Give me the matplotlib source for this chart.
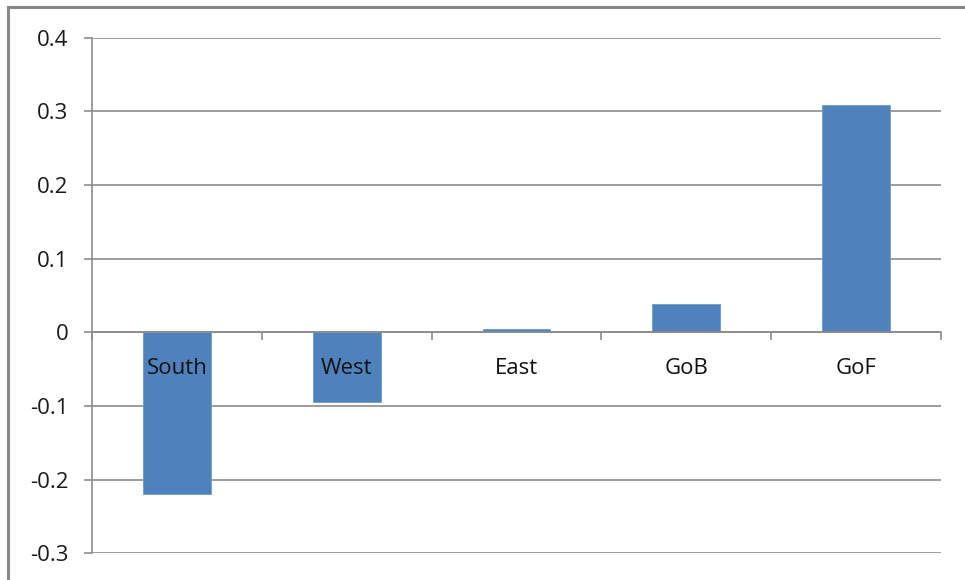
import matplotlib.pyplot as plt
from matplotlib.patches import Rectangle
import numpy as np

regions = ['South', 'West', 'East', 'GoB', 'GoF']
values = [-0.219, -0.094, 0.004, 0.038, 0.308]
yticks = [-0.3, -0.2, -0.1, 0, 0.1, 0.2, 0.3, 0.4]
ytick_labels = ['-0.3', '-0.2', '-0.1', '0', '0.1', '0.2', '0.3', '0.4']

plt.rcParams['font.family'] = ['Open Sans', 'DejaVu Sans']
grey = '#8c8c8c'

fig = plt.figure(figsize=(9.65, 5.8), dpi=100)
ax = fig.add_axes([92 / 965, 1 - 553.3 / 580, (941 - 92) / 965, (553.3 - 37.7) / 580])

x = np.arange(len(regions))
ax.bar(x, values, width=0.4, color='#4f81bd', edgecolor='#6f9ad0', linewidth=0.6, zorder=2)

ax.set_xlim(-0.5, len(regions) - 0.5)
ax.set_ylim(-0.3, 0.4)
ax.set_yticks(yticks)
ax.set_yticklabels(ytick_labels, fontsize=16, color='#1a1a1a')
# gridlines behind the bars, axis labels in front of them
for yv in yticks:
    ax.axhline(yv, color=grey, linewidth=1.2, zorder=0.5)
ax.set_axisbelow(False)
ax.tick_params(axis='y', length=6, color=grey, width=1.2, pad=11)

# category axis sits on the zero line
ax.spines['bottom'].set_position(('data', 0))
ax.spines['bottom'].set_color(grey)
ax.spines['bottom'].set_linewidth(1.2)
ax.spines['left'].set_color(grey)
ax.spines['left'].set_linewidth(1.2)
ax.spines['top'].set_visible(False)
ax.spines['right'].set_visible(False)

ax.set_xticks(x)
ax.set_xticklabels(regions, fontsize=16, color='#111111')
ax.tick_params(axis='x', length=0, pad=18.5)
ax.set_xticks(np.arange(-0.5, len(regions)), minor=True)
ax.tick_params(axis='x', which='minor', length=6, color=grey, width=1.2)

# chart-area border
fig.patches.append(Rectangle((8 / 965, -0.1), 1.2, 1 - 7 / 580 + 0.1, transform=fig.transFigure,
                             fill=False, edgecolor='#888888', linewidth=2.2))

fig.savefig('out.png', dpi=100)
